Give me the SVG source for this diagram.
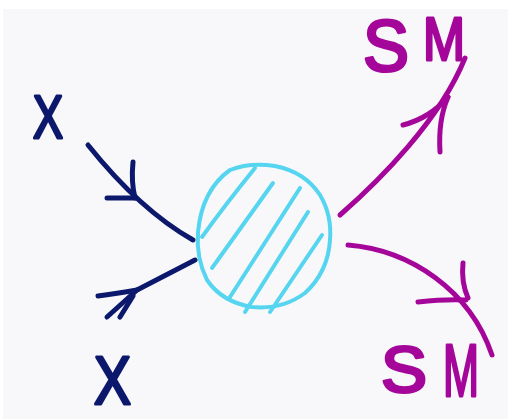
<svg xmlns="http://www.w3.org/2000/svg" width="508" height="419" viewBox="0 0 508 419">
<style>
.ink{fill:none;stroke-linecap:round;stroke-linejoin:round;stroke-width:5}
.navy{stroke:#0b186c}
.mag{stroke:#a5069a}
.cyan{fill:none;stroke:#55d5ef;stroke-width:4;stroke-linecap:round;stroke-linejoin:round}
.lbl{font-family:"Liberation Sans",Arial,sans-serif;stroke-width:3;stroke-linejoin:round}
.lx{fill:#0b186c;stroke:#0b186c}
.lsm{fill:#a5069a;stroke:#a5069a}
</style>
<rect x="0" y="0" width="508" height="419" fill="#f8f8fb"/>
<rect x="0" y="0" width="508" height="9" fill="#ffffff"/>
<rect x="0" y="0" width="3" height="419" fill="#ffffff"/>
<g id="connectors">
  <g id="in-top">
    <path class="ink navy" d="M88,145 Q140,210 193,240"/>
    <path class="ink navy" d="M133,162 Q131,182 135,198"/>
    <path class="ink navy" d="M107,198 L135,198"/>
  </g>
  <g id="in-bottom">
    <path class="ink navy" d="M195,260 L137,290 L107,317"/>
    <path class="ink navy" d="M98,296 Q120,293 137,290"/>
    <path class="ink navy" d="M133,296 L120,317"/>
  </g>
  <g id="out-top">
    <path class="ink mag" d="M340,215 C380,180 440,120 465,58"/>
    <path class="ink mag" d="M403,125 Q430,118 448,97"/>
    <path class="ink mag" d="M440,152 Q438,120 448,97"/>
  </g>
  <g id="out-bottom">
    <path class="ink mag" d="M348,245 C410,250 470,290 492,355"/>
    <path class="ink mag" d="M463,263 Q461,282 468,298"/>
    <path class="ink mag" d="M418,302 Q445,299 466,300"/>
  </g>
</g>
<g id="blob">
  <path class="cyan" d="M230,170 Q250,162 275,166 Q305,172 320,195 Q332,215 330,240 Q328,272 305,293 Q282,310 252,307 Q222,302 207,280 Q196,258 198,232 Q202,190 230,170 Z"/>
  <path class="cyan" d="M202,237 Q225,205 255,168"/>
  <path class="cyan" d="M212,268 L273,183"/>
  <path class="cyan" d="M230,297 L300,188"/>
  <path class="cyan" d="M245,312 L308,212"/>
  <path class="cyan" d="M270,312 L322,235"/>
</g>
<g id="label-x-top"><text class="lbl lx" x="33" y="138" font-size="62" textLength="30" lengthAdjust="spacingAndGlyphs">X</text></g>
<g id="label-x-bottom"><text class="lbl lx" x="94" y="404" font-size="68" textLength="37" lengthAdjust="spacingAndGlyphs">X</text></g>
<g id="label-sm-top"><text class="lbl lsm"><tspan x="363" y="71" font-size="72" textLength="46" lengthAdjust="spacingAndGlyphs">S</tspan><tspan x="423" y="60" font-size="62" textLength="42" lengthAdjust="spacingAndGlyphs">M</tspan></text></g>
<g id="label-sm-bottom"><text class="lbl lsm"><tspan x="381" y="392" font-size="64" textLength="46" lengthAdjust="spacingAndGlyphs">S</tspan><tspan x="443" y="396" font-size="74" textLength="36" lengthAdjust="spacingAndGlyphs">M</tspan></text></g>
</svg>
